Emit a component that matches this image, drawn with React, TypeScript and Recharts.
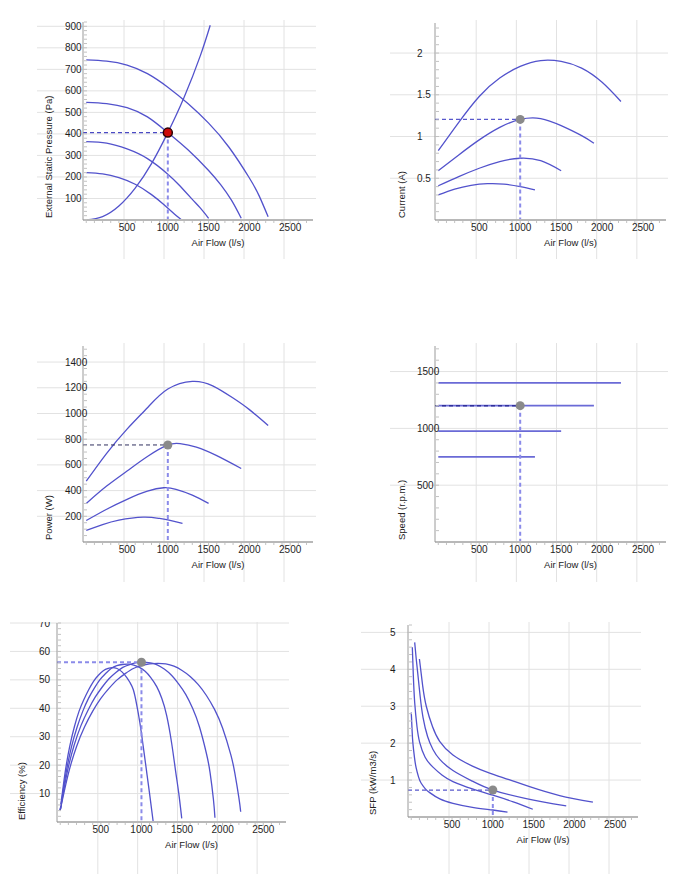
import React from 'react';
import {
  LineChart,
  Line,
  XAxis,
  YAxis,
  CartesianGrid,
  ReferenceLine,
  ReferenceDot,
} from 'recharts';

type Row = [number, number];

// Air flow axis, shared by all six panels (l/s)
const FLOW_DOMAIN: [number, number] = [-40, 2780];
const FLOW_LABELS = [500, 1000, 1500, 2000, 2500];
const FLOW_STEP = 100;

// Selected duty point
const DUTY_FLOW = 1000;
const DUTY_PRESSURE = 406;
const DUTY_CURRENT = 1.205;
const DUTY_POWER = 755;
const DUTY_SPEED = 1200;
const DUTY_EFFICIENCY = 56.2;
const DUTY_SFP = 0.73;

// External static pressure (Pa) per fan speed, plus the system curve
const PRESSURE_1400: Row[] = [[0, 744], [250, 738], [500, 720], [750, 680], [1000, 617], [1250, 540], [1500, 450], [1750, 338], [2000, 195], [2120, 112], [2230, 15]];
const PRESSURE_1200: Row[] = [[0, 547], [250, 541], [500, 522], [750, 479], [1000, 406], [1250, 325], [1500, 230], [1650, 163], [1780, 92], [1900, 8]];
const PRESSURE_975: Row[] = [[0, 364], [250, 357], [500, 330], [750, 285], [1000, 213], [1150, 158], [1300, 96], [1400, 55], [1500, 8]];
const PRESSURE_750: Row[] = [[0, 220], [200, 214], [400, 197], [600, 166], [800, 118], [950, 72], [1060, 35], [1170, 0]];
const SYSTEM_CURVE: Row[] = [[0, 0], [200, 16], [400, 65], [600, 148], [800, 262], [1000, 406], [1200, 570], [1400, 765], [1520, 905]];

// Motor current (A)
const CURRENT_1400: Row[] = [[0, 0.83], [250, 1.17], [500, 1.48], [750, 1.7], [1000, 1.84], [1250, 1.91], [1500, 1.9], [1750, 1.82], [2000, 1.65], [2230, 1.42]];
const CURRENT_1200: Row[] = [[0, 0.59], [250, 0.78], [500, 0.96], [750, 1.11], [1000, 1.205], [1250, 1.215], [1500, 1.13], [1750, 1.01], [1900, 0.92]];
const CURRENT_975: Row[] = [[0, 0.41], [250, 0.52], [500, 0.62], [750, 0.7], [1000, 0.74], [1250, 0.71], [1500, 0.59]];
const CURRENT_750: Row[] = [[0, 0.3], [200, 0.37], [400, 0.415], [600, 0.435], [800, 0.43], [1000, 0.4], [1180, 0.36]];

// Absorbed power (W)
const POWER_1400: Row[] = [[0, 473], [250, 690], [500, 878], [750, 1045], [1000, 1190], [1300, 1250], [1550, 1215], [1800, 1120], [2000, 1030], [2230, 907]];
const POWER_1200: Row[] = [[0, 300], [250, 435], [500, 552], [750, 665], [1000, 755], [1150, 766], [1350, 738], [1600, 672], [1900, 572]];
const POWER_975: Row[] = [[0, 167], [250, 255], [500, 332], [750, 395], [950, 422], [1100, 410], [1300, 365], [1500, 300]];
const POWER_750: Row[] = [[0, 90], [200, 135], [400, 170], [700, 193], [900, 183], [1000, 173], [1180, 144]];

// Fan speed (r.p.m.)
const SPEED_1400: Row[] = [[0, 1400], [2230, 1400]];
const SPEED_1200: Row[] = [[0, 1200], [1900, 1200]];
const SPEED_975: Row[] = [[0, 975], [1500, 975]];
const SPEED_750: Row[] = [[0, 750], [1180, 750]];

// Total efficiency (%)
const EFF_1400: Row[] = [[0, 4.2], [100, 17], [200, 26.5], [300, 33.5], [400, 39], [500, 43.5], [600, 47], [700, 50], [800, 52.2], [900, 54], [1000, 55], [1100, 55.6], [1200, 55.8], [1300, 55.6], [1400, 54.8], [1500, 53.3], [1600, 51.2], [1700, 48.3], [1800, 44.5], [1900, 39.6], [2000, 33], [2100, 23.7], [2150, 17.2], [2200, 8.5], [2222, 3.6]];
const EFF_1200: Row[] = [[0, 4.2], [85, 17.4], [170, 26.9], [255, 33.9], [345, 39.5], [430, 43.9], [515, 47.4], [600, 50.4], [685, 52.6], [770, 54.4], [855, 55.4], [940, 56.05], [1000, 56.2], [1110, 56], [1200, 55.2], [1285, 53.7], [1370, 51.6], [1455, 48.7], [1545, 44.9], [1630, 40], [1715, 33.4], [1800, 24.1], [1845, 17.4], [1886, 8], [1905, 1.5]];
const EFF_975: Row[] = [[0, 4.2], [70, 17], [139, 26.5], [209, 33.5], [278, 39], [348, 43.5], [418, 47], [487, 50], [557, 52.2], [626, 54], [696, 55], [766, 55.4], [835, 55.5], [905, 55.2], [975, 54.4], [1045, 53], [1115, 50.8], [1188, 47.6], [1250, 43.5], [1310, 37.5], [1372, 27.7], [1420, 18], [1460, 10], [1496, 1.3]];
const EFF_750: Row[] = [[0, 4.2], [58, 17], [116, 26.5], [174, 33.5], [232, 39], [290, 43], [350, 46.5], [410, 49.5], [470, 51.6], [530, 53.2], [590, 54], [640, 54.3], [700, 54], [760, 52.8], [820, 50.8], [860, 49], [900, 46.5], [940, 41.5], [980, 35], [1020, 27], [1060, 18.5], [1100, 10], [1145, 0]];

// Specific fan power (kW/m3/s)
const SFP_1400: Row[] = [[100, 4.28], [140, 3.55], [184, 3.0], [260, 2.45], [348, 2.05], [511, 1.68], [750, 1.38], [961, 1.19], [1200, 1.01], [1451, 0.82], [1819, 0.58], [2227, 0.4]];
const SFP_1200: Row[] = [[42, 4.73], [60, 4.3], [83, 3.82], [110, 3.25], [144, 2.7], [200, 2.18], [266, 1.83], [350, 1.56], [511, 1.26], [750, 0.97], [1000, 0.73], [1410, 0.5], [1900, 0.3]];
const SFP_975: Row[] = [[13, 4.6], [25, 3.85], [42, 3.1], [70, 2.45], [103, 2.02], [170, 1.62], [266, 1.35], [380, 1.13], [511, 0.96], [750, 0.76], [1000, 0.59], [1250, 0.41], [1490, 0.21]];
const SFP_750: Row[] = [[0, 2.83], [10, 2.35], [20, 2.0], [40, 1.6], [60, 1.33], [90, 1.08], [120, 0.92], [170, 0.77], [226, 0.66], [350, 0.49], [511, 0.37], [750, 0.26], [1000, 0.19], [1180, 0.13]];

const FONT = '"Liberation Sans", Arial, Helvetica, sans-serif';
const CURVE = '#5252cc';
const GRID = '#e2e2e2';
const TICK = '#c2c2c2';
const GUIDE = '#8b8be9';

const toPoints = (rows: Row[]) => rows.map(([f, v]) => ({ f, v }));

function marks(max: number, step: number) {
  const out: number[] = [];
  for (let i = 0; i * step <= max + 1e-9; i++) out.push(Math.round(i * step * 1000) / 1000);
  return out;
}

const FLOW_MARKS = marks(2700, FLOW_STEP);

interface Box { left: number; top: number; width: number; height: number }
interface Inset { left: number; top: number; right: number; bottom: number }

interface PanelProps {
  box: Box;
  inset: Inset;
  yMax: number;
  yStep: number;
  yLabels: number[];
  yTitle: string;
  curves: Row[][];
  system?: Row[];
  lineWidth?: number;
  lineColor?: string;
  duty: number;
  guide: { stroke: string; width: number };
  marker: { fill: string; stroke?: string; r: number };
}

function Panel(p: PanelProps) {
  const { box, inset } = p;
  const plotW = box.width - inset.left - inset.right;
  const plotH = box.height - inset.top - inset.bottom;
  const plotBottom = inset.top + plotH;
  // grid runs edge to edge of the panel, slightly offset from the flow ticks
  const gridY = p.yLabels.map((v) => inset.top + plotH * (1 - v / p.yMax));
  const gridX = FLOW_LABELS.map((v) => inset.left + 1 + (v * plotW) / 2875);
  const isLabel = (v: number) => p.yLabels.some((l) => Math.abs(l - v) < 1e-6);

  const all = p.system ? [...p.curves, p.system] : p.curves;

  return (
    <div style={{ position: 'absolute', left: box.left, top: box.top }}>
      <LineChart
        width={box.width}
        height={box.height}
        margin={{ top: inset.top, right: inset.right, bottom: 0, left: 0 }}
      >
        <CartesianGrid
          horizontalPoints={gridY}
          verticalPoints={gridX}
          horizontal={(g: any) => (
            <line key={`h${g.y1}`} x1={0} x2={box.width} y1={g.y1} y2={g.y1} stroke={GRID} />
          )}
          vertical={(g: any) => (
            <line key={`v${g.x1}`} x1={g.x1} x2={g.x1} y1={0} y2={box.height} stroke={GRID} />
          )}
        />
        <XAxis
          type="number"
          dataKey="f"
          domain={FLOW_DOMAIN}
          ticks={FLOW_MARKS}
          interval={0}
          height={inset.bottom}
          tickSize={0}
          tickMargin={0}
          tickLine={false}
          axisLine={{ stroke: '#b8b8b8', strokeWidth: 2 }}
          tick={(t: any) => {
            const v = t.payload.value;
            const major = FLOW_LABELS.includes(v);
            return (
              <g>
                <line x1={t.x} x2={t.x} y1={t.y + 1} y2={t.y + (major ? 4 : 3)} stroke={TICK} />
                {major && (
                  <text x={t.x} y={t.y + 11} textAnchor="middle" fontSize={10} fill="#1e1e1e" fontFamily={FONT}>
                    {v}
                  </text>
                )}
              </g>
            );
          }}
          label={() => (
            <text
              x={inset.left + plotW / 2 + 20}
              y={plotBottom + 26}
              textAnchor="middle"
              fontSize={9.5}
              fill="#222"
              fontFamily={FONT}
            >
              Air Flow (l/s)
            </text>
          )}
        />
        <YAxis
          type="number"
          domain={[0, p.yMax]}
          ticks={marks(p.yMax, p.yStep)}
          interval={0}
          width={inset.left}
          tickSize={0}
          tickMargin={0}
          tickLine={false}
          axisLine={{ stroke: '#9a9a9a' }}
          tick={(t: any) => {
            const v = t.payload.value;
            return (
              <g>
                <line x1={t.x + 1} x2={t.x + 4} y1={t.y} y2={t.y} stroke={TICK} />
                {isLabel(v) && (
                  <text x={inset.left - 18} y={t.y} dy="0.35em" fontSize={10} fill="#1e1e1e" fontFamily={FONT}>
                    {v}
                  </text>
                )}
              </g>
            );
          }}
          label={() => (
            <text
              x={11}
              y={plotBottom - 2}
              transform={`rotate(-90 11 ${plotBottom - 2})`}
              dominantBaseline="central"
              fontSize={9.5}
              fill="#222"
              fontFamily={FONT}
            >
              {p.yTitle}
            </text>
          )}
        />
        {all.map((c, i) => (
          <Line
            key={i}
            data={toPoints(c)}
            dataKey="v"
            type="natural"
            stroke={p.lineColor ?? CURVE}
            strokeWidth={p.lineWidth ?? 1.3}
            dot={false}
            activeDot={false}
            isAnimationActive={false}
          />
        ))}
        <ReferenceLine
          segment={[{ x: FLOW_DOMAIN[0], y: p.duty }, { x: DUTY_FLOW, y: p.duty }]}
          stroke={p.guide.stroke}
          strokeWidth={p.guide.width}
          strokeDasharray="4 3"
        />
        <ReferenceLine
          segment={[{ x: DUTY_FLOW, y: p.duty }, { x: DUTY_FLOW, y: 0 }]}
          stroke={GUIDE}
          strokeWidth={2}
          strokeDasharray="4 3"
        />
        <ReferenceDot
          x={DUTY_FLOW}
          y={p.duty}
          r={p.marker.r}
          fill={p.marker.fill}
          stroke={p.marker.stroke ?? 'none'}
          strokeWidth={1.5}
        />
      </LineChart>
    </div>
  );
}

const GREY_DOT = { fill: '#8a8a8a', r: 4.5 };

export default function App() {
  return (
    <div
      style={{
        position: 'absolute',
        left: 0,
        top: 0,
        width: 686,
        height: 874,
        background: '#fff',
        fontFamily: FONT,
        overflow: 'hidden',
      }}
    >
      <Panel
        box={{ left: 37, top: 20, width: 279, height: 239 }}
        inset={{ left: 46, top: 2, right: 3, bottom: 39 }}
        yMax={920}
        yStep={20}
        yLabels={[100, 200, 300, 400, 500, 600, 700, 800, 900]}
        yTitle="External Static Pressure (Pa)"
        curves={[PRESSURE_1400, PRESSURE_1200, PRESSURE_975, PRESSURE_750]}
        system={SYSTEM_CURVE}
        duty={DUTY_PRESSURE}
        guide={{ stroke: '#4a4ac4', width: 1.2 }}
        marker={{ fill: '#cc0a0a', stroke: '#2a0000', r: 4.5 }}
      />
      <Panel
        box={{ left: 390, top: 20, width: 278, height: 239 }}
        inset={{ left: 45, top: 3, right: 2, bottom: 39 }}
        yMax={2.36}
        yStep={0.1}
        yLabels={[0.5, 1, 1.5, 2]}
        yTitle="Current (A)"
        curves={[CURRENT_1400, CURRENT_1200, CURRENT_975, CURRENT_750]}
        duty={DUTY_CURRENT}
        guide={{ stroke: '#5858cc', width: 1.2 }}
        marker={GREY_DOT}
      />
      <Panel
        box={{ left: 37, top: 343, width: 279, height: 239 }}
        inset={{ left: 46, top: 3, right: 3, bottom: 40 }}
        yMax={1525}
        yStep={50}
        yLabels={[200, 400, 600, 800, 1000, 1200, 1400]}
        yTitle="Power (W)"
        curves={[POWER_1400, POWER_1200, POWER_975, POWER_750]}
        duty={DUTY_POWER}
        guide={{ stroke: '#2e2e5e', width: 1 }}
        marker={GREY_DOT}
      />
      <Panel
        box={{ left: 390, top: 343, width: 278, height: 239 }}
        inset={{ left: 45, top: 3, right: 2, bottom: 40 }}
        yMax={1725}
        yStep={100}
        yLabels={[500, 1000, 1500]}
        yTitle="Speed (r.p.m.)"
        curves={[SPEED_1400, SPEED_1200, SPEED_975, SPEED_750]}
        lineWidth={1.8}
        lineColor="#6a6ad6"
        duty={DUTY_SPEED}
        guide={{ stroke: '#30309a', width: 1.5 }}
        marker={GREY_DOT}
      />
      <Panel
        box={{ left: 10, top: 622, width: 279, height: 252 }}
        inset={{ left: 47, top: 1, right: 3, bottom: 52 }}
        yMax={70}
        yStep={2}
        yLabels={[10, 20, 30, 40, 50, 60, 70]}
        yTitle="Efficiency (%)"
        curves={[EFF_1400, EFF_1200, EFF_975, EFF_750]}
        duty={DUTY_EFFICIENCY}
        guide={{ stroke: GUIDE, width: 2 }}
        marker={GREY_DOT}
      />
      <Panel
        box={{ left: 361, top: 622, width: 280, height: 252 }}
        inset={{ left: 47, top: 3, right: 3, bottom: 57 }}
        yMax={5.2}
        yStep={0.2}
        yLabels={[1, 2, 3, 4, 5]}
        yTitle="SFP (kW/m3/s)"
        curves={[SFP_1400, SFP_1200, SFP_975, SFP_750]}
        duty={DUTY_SFP}
        guide={{ stroke: '#5858cc', width: 1.2 }}
        marker={GREY_DOT}
      />
    </div>
  );
}
